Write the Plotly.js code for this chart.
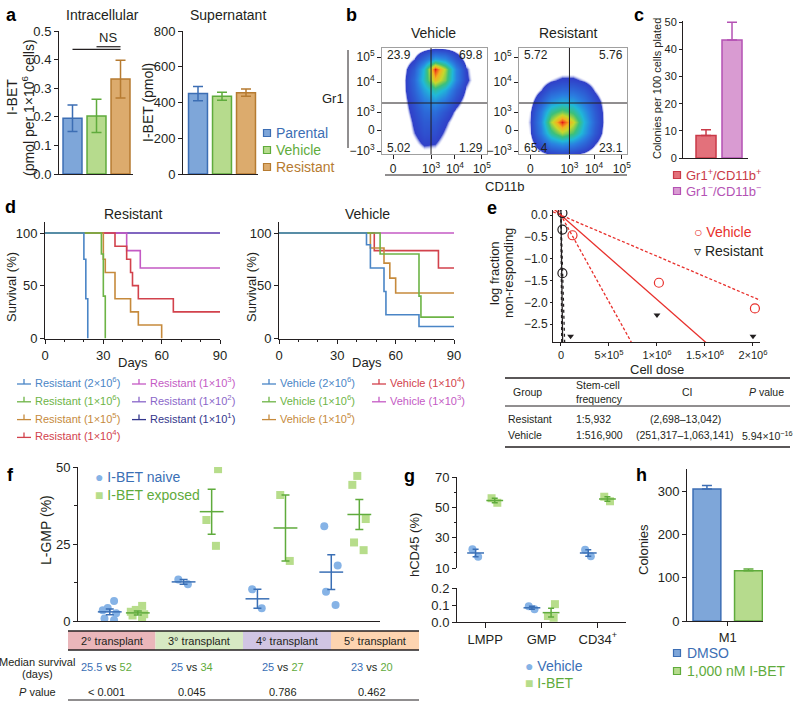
<!DOCTYPE html>
<html>
<head>
<meta charset="utf-8">
<script src="https://cdn.plot.ly/plotly-3.0.1.min.js"></script>
<style>body{margin:0;background:#fff}#fig{width:800px;height:707px}</style>
</head>
<body>
<div id="fig"></div>
<script>
// ---- a: I-BET levels
var groupsA = ["Parental", "Vehicle", "Resistant"];
var intraMean = [0.195, 0.203, 0.332];
var intraErr = [0.046, 0.058, 0.066];
var superMean = [450, 435, 455];
var superErr = [40, 22, 20];
var fillA = ["#7ea6d9", "#b6db8d", "#dcab6d"];
var edgeA = ["#3c6eb4", "#5fab3c", "#b67b31"];

// ---- b: flow density, coarse grid (0..1 display units)
var flowGrid = [0, 0.1, 0.2, 0.3, 0.4, 0.5, 0.6, 0.7, 0.8, 0.9, 1];
var vehDensity = [
  [0, 0, 0, 0, 0.3, 0.3, 0, 0, 0, 0, 0],
  [0, 0, 0, 0.4, 0.9, 0.8, 0.3, 0, 0, 0, 0],
  [0, 0, 0, 0.7, 1.3, 1.2, 0.6, 0, 0, 0, 0],
  [0, 0, 0, 0.9, 1.6, 1.6, 0.9, 0.2, 0, 0, 0],
  [0, 0, 0.2, 1.1, 2, 2.2, 1.4, 0.5, 0, 0, 0],
  [0, 0, 0.3, 1.4, 2.6, 3.2, 2.4, 1.1, 0.3, 0, 0],
  [0, 0, 0.4, 1.8, 3.5, 4.8, 3.8, 1.8, 0.6, 0, 0],
  [0, 0, 0.4, 2, 4.5, 7.5, 6, 2.8, 0.9, 0.2, 0],
  [0, 0, 0.3, 1.6, 4.2, 9, 6.5, 2.8, 0.8, 0.1, 0],
  [0, 0, 0, 0.7, 2, 3.5, 3, 1.4, 0.3, 0, 0],
  [0, 0, 0, 0, 0.3, 0.6, 0.5, 0.2, 0, 0, 0]
];
var resDensity = [
  [0, 0, 0.4, 0.8, 1, 0.8, 0.5, 0, 0, 0, 0],
  [0, 0.3, 1.5, 2.8, 3.4, 3, 2, 0.8, 0, 0, 0],
  [0, 0.6, 2.6, 5, 6.5, 5.5, 3.5, 1.5, 0.3, 0, 0],
  [0, 0.7, 3, 6.5, 9, 7, 4, 1.8, 0.4, 0, 0],
  [0, 0.6, 2.6, 5, 6, 5.2, 3.4, 1.6, 0.4, 0, 0],
  [0, 0.3, 1.6, 3, 3.6, 3.4, 2.4, 1.2, 0.3, 0, 0],
  [0, 0, 0.7, 1.6, 2, 2, 1.5, 0.6, 0, 0, 0],
  [0, 0, 0.2, 0.6, 0.9, 0.9, 0.6, 0.2, 0, 0, 0],
  [0, 0, 0, 0, 0.2, 0.2, 0, 0, 0, 0, 0],
  [0, 0, 0, 0, 0, 0, 0, 0, 0, 0, 0],
  [0, 0, 0, 0, 0, 0, 0, 0, 0, 0, 0]
];
var vehQuad = ["23.9", "69.8", "5.02", "1.29"];
var resQuad = ["5.72", "5.76", "65.4", "23.1"];
var flowTickX = ["0", "10<sup>3</sup>", "10<sup>4</sup>", "10<sup>5</sup>"];
var flowTickY = ["−10<sup>3</sup>", "0", "10<sup>3</sup>", "10<sup>4</sup>", "10<sup>5</sup>"];

// ---- c: colonies
var groupsC = ["Gr1<sup>+</sup>/CD11b<sup>+</sup>", "Gr1<sup>−</sup>/CD11b<sup>−</sup>"];
var coloniesC = [8.3, 43.5];
var errC = [2.1, 6.5];
var fillC = ["#e3717b", "#d99bd2"];
var edgeC = ["#c93a48", "#b452b4"];

// ---- d: survival
var resNames = ["Resistant (2×10<sup>6</sup>)", "Resistant (1×10<sup>6</sup>)", "Resistant (1×10<sup>5</sup>)",
  "Resistant (1×10<sup>4</sup>)", "Resistant (1×10<sup>3</sup>)", "Resistant (1×10<sup>2</sup>)", "Resistant (1×10<sup>1</sup>)"];
var resDays = [[0, 20, 21, 22], [0, 29, 30, 31], [0, 30, 31, 36, 44, 48, 60],
  [0, 36, 42, 44, 45, 48, 66, 90], [0, 42, 49, 90], [0, 90], [0, 90]];
var resSurv = [[100, 75, 37.5, 0], [100, 80, 40, 0], [100, 75, 62.5, 37.5, 25, 12.5, 0],
  [100, 87.5, 75, 62.5, 50, 37.5, 25, 25], [100, 83.3, 66.7, 66.7], [100, 100], [100, 100]];
var resColors = ["#4a85c6", "#6db446", "#c68a3c", "#d2424c", "#c45ac4", "#8a66c9", "#33368c"];
var vehNames = ["Vehicle (2×10<sup>6</sup>)", "Vehicle (1×10<sup>6</sup>)", "Vehicle (1×10<sup>5</sup>)",
  "Vehicle (1×10<sup>4</sup>)", "Vehicle (1×10<sup>3</sup>)"];
var vehDays = [[0, 45, 47, 54, 55, 72, 90], [0, 52, 72, 73, 90], [0, 47, 54, 57, 60, 90], [0, 49, 82, 90], [0, 90]];
var vehSurv = [[100, 88.9, 66.7, 44.4, 22.2, 11.1, 11.1], [100, 80, 40, 20, 20],
  [100, 85.7, 71.4, 57.1, 42.9, 42.9], [100, 83.3, 66.7, 66.7], [100, 100]];
var vehColors = ["#4a85c6", "#6db446", "#c68a3c", "#d2424c", "#c45ac4"];

// ---- e: limiting dilution
var eVehDose = [1.2e5, 1.02e6, 2.02e6];
var eVehLog = [-0.46, -1.55, -2.14];
var eResDose = [1.5e4, 1.5e4, 1.5e4];
var eResLog = [0.05, -0.33, -1.33];
var eResNullDose = [1e5, 1e6, 2e6];
var eResNullLog = [-2.78, -2.29, -2.78];
var tblGroup = ["Resistant", "Vehicle"];
var tblFreq = [5932, 516900];
var tblLow = [2698, 251317];
var tblHigh = [13042, 1063141];
var tblP = ["", "5.94×10<sup>−16</sup>"];
var eColors = ["#231f20", "#e8302c"];

// ---- f: L-GMP
var transplants = ["2° transplant", "3° transplant", "4° transplant", "5° transplant"];
var naiveLGMP = [[6.5, 4.2, 3.5, 2.5, 0.8, 0.3], [11.9, 13.5], [10.3, 4.1], [30.8, 18.0, 9.5, 5.2]];
var exposedLGMP = [[4.9, 3.6, 3.0, 2.2, 1.8, 0.3], [49.3, 32.8, 24.4], [40.9, 19.5], [47.1, 44.2, 33.1, 25.5, 23.0]];
var medNaive = ["25.5", "25", "25", "23"];
var medExposed = ["52", "34", "27", "20"];
var pTransplant = ["< 0.001", "0.045", "0.786", "0.462"];
var bandColors = ["#eab6ba", "#d7e9c3", "#d0c5e3", "#fdd4b0"];

// ---- g: hCD45
var gCats = ["LMPP", "GMP", "CD34<sup>+</sup>"];
var gVehicle = [[17.5, 22.3], [0.075, 0.092], [17.8, 22.0]];
var gIBET = [[56, 53], [0.105, 0.025, 0.035], [57, 54]];

// ---- h: colonies M1
var hGroups = ["DMSO", "1,000 nM I-BET"];
var hColonies = [305, 116];
var hErr = [8, 4];
var hFill = ["#7ea6d9", "#b6db8d"];
var hEdge = ["#3c6eb4", "#5fab3c"];

var W = 800, H = 707;
var INK = "#231f20";
var BLUE = "#3a6fb5", LBLUE = "#86b3e6", GREEN = "#5fab3c", LGREEN = "#b7dd8b";

function xd(l, r) { return [l / W, r / W]; }
function yd(t, b) { return [1 - b / H, 1 - t / H]; }
function mean(v) { return v.reduce(function (a, b) { return a + b; }, 0) / v.length; }
function sem(v) {
  var m = mean(v);
  var s = v.reduce(function (a, b) { return a + (b - m) * (b - m); }, 0) / (v.length - 1);
  return Math.sqrt(s / v.length);
}

var traces = [];
var ann = [];
var shp = [];

function note(x, y, text, o) {
  o = o || {};
  ann.push({
    xref: "paper", yref: "paper", x: x / W, y: 1 - y / H, text: text, showarrow: false,
    xanchor: o.xa || "center", yanchor: "middle", textangle: o.rot || 0,
    font: { size: o.size || 13, color: o.color || INK }
  });
}
function lineP(x0, y0, x1, y1, color, w) {
  shp.push({ type: "line", xref: "paper", yref: "paper", x0: x0 / W, y0: 1 - y0 / H, x1: x1 / W, y1: 1 - y1 / H,
    line: { color: color || INK, width: w || 1 } });
}
function rectP(x0, y0, x1, y1, fill, edge, w) {
  shp.push({ type: "rect", xref: "paper", yref: "paper", x0: x0 / W, y0: 1 - y1 / H, x1: x1 / W, y1: 1 - y0 / H,
    fillcolor: fill, line: { color: edge || fill, width: w === undefined ? 1 : w }, layer: "below" });
}
function legendSquare(x, y, fill, edge) { rectP(x - 3.5, y - 3.5, x + 3.5, y + 3.5, fill, edge, 1.2); }

function bar(xa, ya, x, y, err, fill, edge, w, upOnly) {
  traces.push({
    type: "bar", xaxis: xa, yaxis: ya, x: [x], y: [y], width: w,
    marker: { color: fill, line: { color: edge, width: 1.5 } },
    error_y: { type: "data", symmetric: false, array: [err], arrayminus: [upOnly ? 0 : err],
      color: edge, thickness: 1.5, width: 5 },
    hoverinfo: "skip"
  });
}

// ---- a
groupsA.forEach(function (g, i) {
  bar("x", "y", i, intraMean[i], intraErr[i], fillA[i], edgeA[i], 0.79, false);
  bar("x2", "y2", i, superMean[i], superErr[i], fillA[i], edgeA[i], 0.79, false);
  legendSquare(267, 133 + i * 17, fillA[i], edgeA[i]);
  note(274, 133 + i * 17, g, { xa: "left", size: 14, color: edgeA[i] });
});
shp.push({ type: "line", xref: "x", yref: "y", x0: 0, x1: 2, y0: 0.436, y1: 0.436, line: { color: INK, width: 1.2 } });
shp.push({ type: "line", xref: "x", yref: "y", x0: 1, x1: 2, y0: 0.445, y1: 0.445, line: { color: INK, width: 1.2 } });
note(108, 37, "NS", { size: 13 });

// ---- b
var flowScale = [[0, "rgba(255,255,255,0)"], [0.055, "rgba(255,255,255,0)"], [0.085, "#3040c8"],
  [0.3, "#2a7ee0"], [0.45, "#20b8d8"], [0.6, "#3cc07a"], [0.75, "#c6d82c"], [0.86, "#f4b020"], [0.95, "#f05a1c"], [1, "#e01818"]];
[["x3", "y3", vehDensity, vehQuad], ["x4", "y4", resDensity, resQuad]].forEach(function (p) {
  traces.push({ type: "heatmap", xaxis: p[0], yaxis: p[1], x: flowGrid, y: flowGrid, z: p[2],
    zsmooth: "best", colorscale: flowScale, zmin: 0, zmax: 9, showscale: false, hoverinfo: "skip" });
  shp.push({ type: "line", xref: p[0], yref: p[1] + " domain", x0: 0.467, x1: 0.467, y0: 0, y1: 1, line: { color: INK, width: 1 } });
  shp.push({ type: "line", xref: p[0] + " domain", yref: p[1], x0: 0, x1: 1, y0: 0.481, y1: 0.481, line: { color: INK, width: 1 } });
});
var boxL = [382, 519], boxR = [487, 627];
[vehQuad, resQuad].forEach(function (q, k) {
  note(boxL[k] + 3, 55, q[0], { xa: "left", size: 12 });
  note(boxR[k] - 2, 55, q[1], { xa: "right", size: 12 });
  note(boxL[k] + 3, 148, q[2], { xa: "left", size: 12 });
  note(boxR[k] - 2, 148, q[3], { xa: "right", size: 12 });
});
lineP(348, 50, 348, 148, INK, 1);
lineP(385, 175, 627, 175, INK, 1);
note(333, 98, "Gr1", { size: 13 });
note(505, 187, "CD11b", { size: 13 });
note(433, 33, "Vehicle", { size: 14 });
note(568, 33, "Resistant", { size: 14 });

// ---- c
groupsC.forEach(function (g, i) {
  bar("x5", "y5", i, coloniesC[i], errC[i], fillC[i], edgeC[i], 0.77, true);
  legendSquare(677, 175 + i * 16, fillC[i], edgeC[i]);
  note(684, 175 + i * 16, g, { xa: "left", size: 13, color: edgeC[i] });
});
note(657, 89, "Colonies per 100 cells plated", { rot: -90, size: 11 });

// ---- d
function survivalPanel(xa, ya, names, days, surv, colors, cols, rows) {
  for (var i = names.length - 1; i >= 0; i--) {
    traces.push({ type: "scatter", mode: "lines", xaxis: xa, yaxis: ya, x: days[i], y: surv[i],
      line: { shape: "hv", color: colors[i], width: 1.6 }, hoverinfo: "skip" });
  }
  names.forEach(function (n, i) {
    var c = i < rows ? 0 : 1, r = i < rows ? i : i - rows;
    var sx = cols[c], sy = 382 + r * 17.8;
    lineP(sx - 7, sy + 2, sx + 7, sy + 2, colors[i], 1.3);
    lineP(sx, sy + 2, sx, sy - 3, colors[i], 1.3);
    note(sx + 9, sy, n, { xa: "left", size: 11, color: colors[i] });
  });
}
survivalPanel("x6", "y6", resNames, resDays, resSurv, resColors, [24, 139], 4);
survivalPanel("x7", "y7", vehNames, vehDays, vehSurv, vehColors, [269, 379], 3);
note(133, 214, "Resistant", { size: 14 });
note(367, 214, "Vehicle", { size: 14 });
note(11, 287, "Survival (%)", { rot: -90, size: 13 });
note(251, 287, "Survival (%)", { rot: -90, size: 13 });
note(133, 362, "Days", { size: 13 });
note(367, 362, "Days", { size: 13 });

// ---- e
var doseSpan = [-83000, 3000000];
tblGroup.forEach(function (g, i) {
  [tblFreq[i], tblLow[i], tblHigh[i]].forEach(function (f, k) {
    traces.push({ type: "scatter", mode: "lines", xaxis: "x8", yaxis: "y8", x: doseSpan,
      y: doseSpan.map(function (d) { return -d / f; }),
      line: { color: eColors[i], width: 1.3, dash: k === 0 ? "solid" : (i === 0 ? "dot" : "3px,2px") },
      hoverinfo: "skip" });
  });
});
traces.push({ type: "scatter", mode: "markers", xaxis: "x8", yaxis: "y8", x: eVehDose, y: eVehLog,
  marker: { symbol: "circle-open", size: 9, color: eColors[1], line: { width: 1.2 } }, hoverinfo: "skip" });
traces.push({ type: "scatter", mode: "markers", xaxis: "x8", yaxis: "y8", x: eResDose, y: eResLog,
  marker: { symbol: "circle-open", size: 9, color: eColors[0], line: { width: 1.2 } }, hoverinfo: "skip" });
traces.push({ type: "scatter", mode: "markers", xaxis: "x8", yaxis: "y8", x: eResNullDose, y: eResNullLog,
  marker: { symbol: "triangle-down", size: 6, color: eColors[0] }, hoverinfo: "skip" });
note(692, 232, "○ Vehicle", { xa: "left", size: 14, color: eColors[1] });
note(692, 251, "▿ Resistant", { xa: "left", size: 14, color: eColors[0] });
note(494, 273, "log fraction", { rot: -90, size: 13 });
note(508, 273, "non-responding", { rot: -90, size: 13 });
note(657, 369, "Cell dose", { size: 13 });
// table under e
var TF = 10.5;
lineP(505, 378, 790, 378, INK, 1.3);
lineP(505, 406, 790, 406, INK, 1);
lineP(505, 447, 790, 447, INK, 1.3);
note(527, 392, "Group", { size: TF });
note(574, 385, "Stem-cell", { xa: "left", size: TF });
note(574, 399, "frequency", { xa: "left", size: TF });
note(687, 392, "CI", { size: TF });
note(766, 392, "<i>P</i> value", { size: TF });
tblGroup.forEach(function (g, i) {
  var y = 419 + i * 16;
  note(506, y, g, { xa: "left", size: TF });
  note(574, y, "1:" + tblFreq[i].toLocaleString("en-US"), { xa: "left", size: TF });
  note(685, y, "(" + tblLow[i].toLocaleString("en-US") + "–" + tblHigh[i].toLocaleString("en-US") + ")", { size: TF });
  if (tblP[i]) note(767, y, tblP[i], { size: TF });
});

// ---- f
function strip(xa, ya, pos, vals, sym, fill, dark, width, meanSize, cap) {
  traces.push({ type: "box", xaxis: xa, yaxis: ya, x: vals.map(function () { return pos; }), y: vals,
    boxpoints: "all", jitter: 0.8, pointpos: 0, width: width, line: { width: 0 }, fillcolor: "rgba(0,0,0,0)",
    marker: { symbol: sym, size: 8, color: fill }, hoverinfo: "skip" });
  traces.push({ type: "scatter", mode: "markers", xaxis: xa, yaxis: ya, x: [pos], y: [mean(vals)],
    marker: { symbol: "line-ew", size: meanSize, line: { color: dark, width: 1.5 } },
    error_y: { type: "data", array: [sem(vals)], color: dark, thickness: 1.5, width: cap }, hoverinfo: "skip" });
}
transplants.forEach(function (t, i) {
  strip("x9", "y9", i - 0.19, naiveLGMP[i], "circle", LBLUE, BLUE, 0.28, 17, 4);
  strip("x9", "y9", i + 0.19, exposedLGMP[i], "square", LGREEN, GREEN, 0.28, 17, 4);
});
var bandEdges = [68, 155.5, 243, 331, 419];
transplants.forEach(function (t, i) {
  rectP(bandEdges[i], 631, bandEdges[i + 1], 650, bandColors[i], bandColors[i], 0);
  var cx = (bandEdges[i] + bandEdges[i + 1]) / 2;
  note(cx, 641, t, { size: 11 });
  var mx = [106, 192, 283, 372][i];
  note(mx, 667, "<span style='color:" + BLUE + "'>" + medNaive[i] + "</span> vs <span style='color:" + GREEN + "'>" + medExposed[i] + "</span>", { size: 11 });
  note(mx, 692, pTransplant[i], { size: 11 });
});
lineP(68, 631, 419, 631, INK, 1.5);
lineP(68, 650, 419, 650, INK, 1.5);
lineP(68, 700, 419, 700, INK, 1.2);
note(37, 662, "Median survival", { size: 11 });
note(37, 674, "(days)", { size: 11 });
note(37, 692, "<i>P</i> value", { size: 11 });
note(46, 530, "L-GMP (%)", { rot: -90, size: 14 });
note(93, 477, "<span style='color:" + LBLUE + "'>●</span> I-BET naive", { xa: "left", size: 14, color: BLUE });
note(93, 495, "<span style='color:" + LGREEN + "'>■</span> I-BET exposed", { xa: "left", size: 14, color: GREEN });

// ---- g
gCats.forEach(function (c, i) {
  var ya = gVehicle[i][0] > 1 ? "y10" : "y11";
  strip("x10", ya, i - 0.17, gVehicle[i], "circle", LBLUE, BLUE, 0.22, 12, 3);
  strip("x10", ya, i + 0.17, gIBET[i], "square", LGREEN, GREEN, 0.22, 12, 3);
});
note(414, 545, "hCD45 (%)", { rot: -90, size: 13 });
note(523, 666, "<span style='color:" + LBLUE + "'>●</span> Vehicle", { xa: "left", size: 14, color: BLUE });
note(523, 683, "<span style='color:" + LGREEN + "'>■</span> I-BET", { xa: "left", size: 14, color: GREEN });

// ---- h
hGroups.forEach(function (g, i) {
  bar("x11", "y12", i, hColonies[i], hErr[i], hFill[i], hEdge[i], 0.67, true);
  legendSquare(677, 653 + i * 18, hFill[i], hEdge[i]);
  note(685, 653 + i * 18, g, { xa: "left", size: 14, color: hEdge[i] });
});
note(643, 550, "Colonies", { rot: -90, size: 13 });

// ---- panel titles and letters
note(102, 15, "Intracellular", { size: 14 });
note(228, 15, "Supernatant", { size: 14 });
note(12, 97, "I-BET", { rot: -90, size: 14 });
note(28, 108, "(pmol per 1×10<sup>6</sup> cells)", { rot: -90, size: 14 });
note(148, 103, "I-BET (pmol)", { rot: -90, size: 14 });
[["a", 11, 15], ["b", 351, 15], ["c", 639, 15], ["d", 10, 207], ["e", 492, 208], ["f", 10, 475], ["g", 409, 476], ["h", 641, 475]]
  .forEach(function (l) { note(l[1], l[2], "<b>" + l[0] + "</b>", { size: 18, color: "#000" }); });

// ---- axes
function ax(dom, range, extra) {
  var a = { domain: dom, range: range, showgrid: false, zeroline: false, showline: true, linecolor: INK,
    linewidth: 1, ticks: "outside", ticklen: 4, tickwidth: 1, tickcolor: INK,
    tickfont: { size: 13, color: INK }, fixedrange: true };
  for (var k in extra) a[k] = extra[k];
  return a;
}
var noTicks = { ticks: "", showticklabels: false };
var flowX = { tickvals: [0.105, 0.467, 0.695, 0.952], ticktext: flowTickX, mirror: true, linecolor: "#a0a0a0", tickfont: { size: 12, color: INK } };
var flowY = { tickvals: [0.028, 0.226, 0.396, 0.679, 0.915], ticktext: flowTickY, mirror: true, linecolor: "#a0a0a0", tickfont: { size: 12, color: INK } };

var layout = {
  width: W, height: H, margin: { l: 0, r: 0, t: 0, b: 0 }, showlegend: false,
  paper_bgcolor: "#fff", plot_bgcolor: "rgba(0,0,0,0)", boxmode: "overlay",
  font: { family: "Liberation Sans, Arial, Helvetica, sans-serif", color: INK },
  annotations: ann, shapes: shp,
  xaxis: ax(xd(59, 133), [-0.5625, 2.52], Object.assign({ anchor: "y" }, noTicks)),
  yaxis: ax(yd(31, 174), [0, 0.5], { anchor: "x", dtick: 0.1, tickformat: ".1f" }),
  xaxis2: ax(xd(183, 258), [-0.625, 2.5], Object.assign({ anchor: "y2" }, noTicks)),
  yaxis2: ax(yd(31, 174), [0, 800], { anchor: "x2", dtick: 200 }),
  xaxis3: ax(xd(382, 487), [0, 1], Object.assign({ anchor: "y3" }, flowX)),
  yaxis3: ax(yd(48, 154), [0, 1], Object.assign({ anchor: "x3" }, flowY)),
  xaxis4: ax(xd(519, 627), [0, 1], Object.assign({ anchor: "y4" }, flowX)),
  yaxis4: ax(yd(48, 154), [0, 1], Object.assign({ anchor: "x4" }, flowY)),
  xaxis5: ax(xd(683, 748), [-0.885, 1.615], Object.assign({ anchor: "y5" }, noTicks)),
  yaxis5: ax(yd(21, 158), [0, 50.5], { anchor: "x5", tickvals: [0, 10, 20, 30, 40, 50], ticklen: 3, tickfont: { size: 11, color: INK } }),
  xaxis6: ax(xd(45, 220), [0, 90], { anchor: "y6", tickvals: [0, 30, 60, 90], minor: { dtick: 10, ticklen: 2, tickcolor: INK } }),
  yaxis6: ax(yd(222, 339), [-0.8, 110.5], { anchor: "x6", tickvals: [0, 50, 100] }),
  xaxis7: ax(xd(279, 454), [0, 90], { anchor: "y7", tickvals: [0, 30, 60, 90], minor: { dtick: 10, ticklen: 2, tickcolor: INK } }),
  yaxis7: ax(yd(222, 339), [-0.8, 110.5], { anchor: "x7", tickvals: [0, 50, 100] }),
  xaxis8: ax(xd(553, 760), [-83000, 2073000], { anchor: "y8", tickvals: [0, 5e5, 1e6, 1.5e6, 2e6], ticklen: 3,
    ticktext: ["0", "5×10<sup>5</sup>", "1×10<sup>6</sup>", "1.5×10<sup>6</sup>", "2×10<sup>6</sup>"], tickfont: { size: 11, color: INK } }),
  yaxis8: ax(yd(210, 342), [-2.91, 0.12], { anchor: "x8", tickvals: [0, -0.5, -1, -1.5, -2, -2.5], ticklen: 2, tickformat: ".1f", tickfont: { size: 12, color: INK } }),
  xaxis9: ax(xd(78, 380), [-0.62, 3.47], Object.assign({ anchor: "y9" }, noTicks)),
  yaxis9: ax(yd(467, 621), [0, 50], { anchor: "x9", tickvals: [0, 25, 50], minor: { tickvals: [12.5, 37.5], ticklen: 3, tickcolor: INK } }),
  xaxis10: ax(xd(457, 626), [-0.5, 2.5], { anchor: "y11", tickvals: [0, 1, 2], ticktext: gCats, ticklen: 5 }),
  yaxis10: ax(yd(477, 568), [10, 70], { anchor: "x10", tickvals: [10, 30, 50, 70], minor: { tickvals: [20, 40, 60], ticklen: 2, tickcolor: INK } }),
  yaxis11: ax(yd(588, 622), [0, 0.2], { anchor: "x10", tickvals: [0, 0.1, 0.2], tickformat: ".1f" }),
  xaxis11: ax(xd(687, 763), [-0.48, 1.35], { anchor: "y12", tickvals: [0.5], ticktext: ["M1"] }),
  yaxis12: ax(yd(469, 621), [0, 351], { anchor: "x11", tickvals: [0, 100, 200, 300] })
};

Plotly.newPlot("fig", traces, layout, { displayModeBar: false, staticPlot: true });
</script>
</body>
</html>
